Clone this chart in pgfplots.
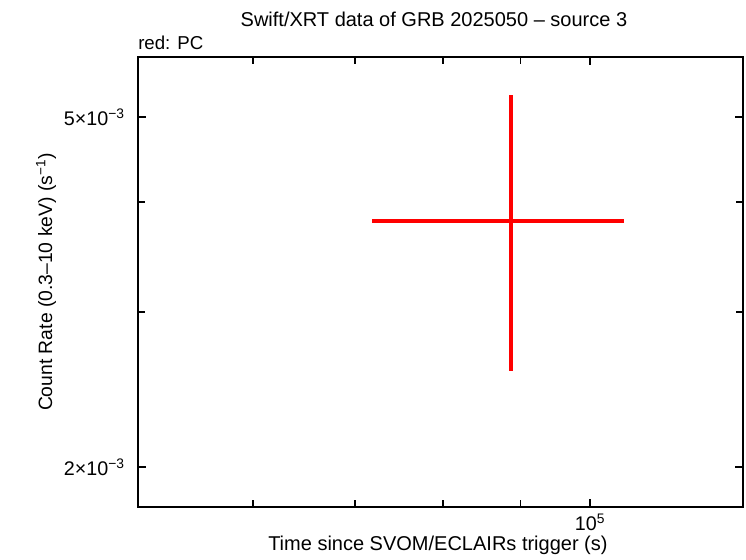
\documentclass[border=0pt]{standalone}
\usepackage{fontspec}
\setmainfont{Liberation Sans}
\usepackage{pgfplots}
\pgfplotsset{compat=1.18}
\begin{document}
\begin{tikzpicture}
\begin{axis}[
  name=main,
  xmode=log, ymode=log,
  scale only axis, width=453.75pt, height=337.5pt,
  xmin=50400, xmax=126100, ymin=0.00180, ymax=0.00585,
  xtick={100000}, xticklabels={10\textsuperscript{5}},
  minor xtick={60000,70000,80000,90000},
  ytick={0.002,0.005},
  yticklabels={2×10\textsuperscript{−3}, 5×10\textsuperscript{−3}},
  minor ytick={0.003,0.004},
  axis line style={line width=1.5pt},
  every tick/.style={black, line width=1.3pt},
  major tick length=6pt, minor tick length=5pt,
  tick label style={font=\fontsize{14.8}{17}\selectfont},
  xticklabel style={yshift=-2pt},
  yticklabel style={xshift=-6.5pt},
  xlabel={Time since SVOM/ECLAIRs trigger (s)},
  ylabel={Count Rate (0.3–10 keV) (s\textsuperscript{−1})},
  every axis x label/.style={at={(rel axis cs:0.5,0)}, yshift=-29pt, xshift=-2pt, anchor=center, font=\fontsize{15}{18}\selectfont},
  every axis y label/.style={at={(rel axis cs:0,0.5)}, xshift=-69pt, anchor=center, rotate=90, font=\fontsize{14.5}{17}\selectfont},
  title={Swift/XRT data of GRB 2025050 – source 3},
  every axis title/.style={at={(rel axis cs:0.5,1)}, yshift=28.5pt, xshift=-5pt, anchor=center, font=\fontsize{15}{18}\selectfont},
]
\addplot[red, mark=none, line width=2.3pt,
  error bars/.cd, x dir=both, x explicit, y dir=both, y explicit,
  error mark=none, error bar style={red, line width=2.3pt}]
  coordinates {(88700,0.003808) += (16600,0.001492) -= (16800,0.001238)};
\end{axis}
\node[anchor=west, font=\fontsize{14}{16}\selectfont, inner sep=0pt] at ([yshift=11pt]main.north west) {red: PC};
\useasboundingbox ([xshift=-103.5pt, yshift=-38.25pt]main.south west) rectangle ([xshift=2.25pt, yshift=42.75pt]main.north east);
\end{tikzpicture}
\end{document}
